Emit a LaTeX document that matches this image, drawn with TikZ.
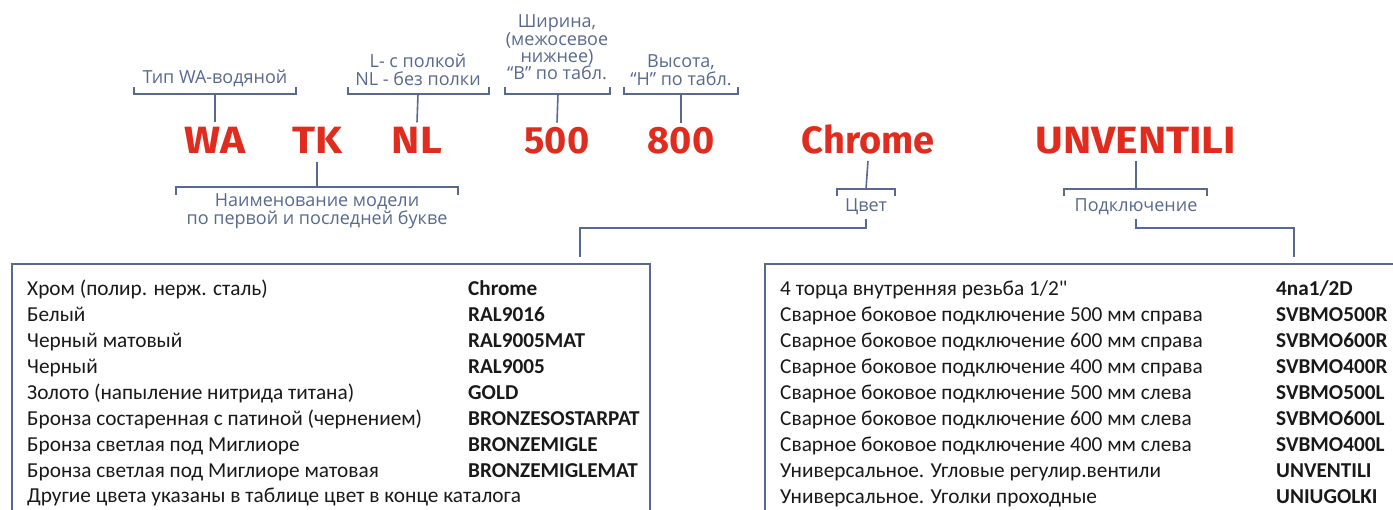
\documentclass[tikz,border=0pt]{standalone}
\usepackage{fontspec}
\setmainfont{Carlito}
\newfontfamily\rowfont{Carlito}
\newfontfamily\codefont{Fira Sans}
\newfontfamily\capsfont[FakeStretch=1.12]{Fira Sans}
\newfontfamily\labelfont{Open Sans}
\usetikzlibrary{positioning}

\definecolor{codered}{RGB}{224,44,30}
\definecolor{slate}{RGB}{88,104,142}

\tikzset{
  code/.style={text=codered, font=\codefont\bfseries\fontsize{38}{38}\selectfont, anchor=base, inner sep=0pt},
  capcode/.style={code, font=\capsfont\bfseries\fontsize{38}{38}\selectfont},
  lbl/.style={text=slate, font=\labelfont\fontsize{18}{18}\selectfont, align=center, anchor=base, inner sep=0pt},
  brk/.style={draw=slate, line width=1.6pt},
  frame/.style={draw=slate, line width=1.3pt},
  row/.style={font=\rowfont\fontsize{21.3}{21.3}\selectfont, anchor=base west, inner sep=0pt, text=black!90},
  rowcode/.style={row, font=\rowfont\bfseries\fontsize{21.2}{21.2}\selectfont},
}

\begin{document}
\begin{tikzpicture}[x=1pt,y=-1pt]
  \useasboundingbox (0,0) rectangle (1393,510);

  % the article code
  \node[capcode] (wa)  at (215,154)  {WA};
  \node[capcode] (tk)  at (317,154)  {TK};
  \node[capcode] (nl)  at (417,154)  {NL};
  \node[code] (shir)   at (557,154)  {500};
  \node[code] (vys)    at (681,154)  {800};
  \node[code] (chrome) at (868,154)  {Chrome};
  \node[capcode] (unv) at (1136,154) {UNVENTILI};

  % labels above
  \node[lbl] (tip)   at (215,84) {Тип WA-водяной};
  \node[lbl] (polka) at (418,86) {L- с полкой\\NL - без полки};
  \node[lbl, font=\labelfont\fontsize{18}{17}\selectfont] (shirl) at (557,80) {Ширина,\\(межосевое\\нижнее)\\“B” по табл.};
  \node[lbl] (vysl)  at (681,86) {Высота,\\“H” по табл.};

  % labels below
  \node[lbl] (naim)  at (317,225) {Наименование модели\\по первой и последней букве};
  \node[lbl] (cvet)  at (866,212) {Цвет};
  \node[lbl] (podkl) at (1136,212) {Подключение};

  % brackets above
  \draw[brk] (134,87) |- (296,94) -- (296,87);
  \draw[brk] ([yshift=5pt]wa.north) -- (215,94);
  \draw[brk] (348,87) |- (489,94) -- (489,87);
  \draw[brk] ([yshift=5pt]nl.north) -- (418,94);
  \draw[brk] (505,87) |- (610,94) -- (610,87);
  \draw[brk] ([yshift=5pt]shir.north) -- (558,94);
  \draw[brk] (624,87) |- (738,94) -- (738,87);
  \draw[brk] ([yshift=5pt]vys.north) -- (681,94);

  % brackets below
  \draw[brk] ([yshift=-8pt]tk.south) -- (317,187);
  \draw[brk] (176,195) |- (458,187) -- (458,195);
  \draw[brk] ([yshift=-6pt]chrome.south) -- (866,189);
  \draw[brk] (837,196) |- (895,189) -- (895,196);
  \draw[brk] ([yshift=-6pt]unv.south) -- (1136,189);
  \draw[brk] (1064,196) |- (1207,189) -- (1207,196);

  % to the tables
  \coordinate (ctab) at (580,257);
  \coordinate (ptab) at (1294,257);
  \draw[brk] ([yshift=-3pt]cvet.south) |- (580,228) -- (ctab);
  \draw[brk] ([yshift=-3pt]podkl.south) |- (1294,228) -- (ptab);

  % table frames
  \draw[frame] (12,515) |- (650,264) -- (650,515);
  \draw[frame] (765,515) |- (1400,264);

  % colours
  \foreach \txt/\cd [count=\i from 0] in {
      {Хром (полир. нерж. сталь)}/Chrome,
      Белый/RAL9016,
      {Черный матовый}/RAL9005MAT,
      Черный/RAL9005,
      {Золото (напыление нитрида титана)}/GOLD,
      {Бронза состаренная с патиной (чернением)}/BRONZESOSTARPAT,
      {Бронза светлая под Миглиоре}/BRONZEMIGLE,
      {Бронза светлая под Миглиоре матовая}/BRONZEMIGLEMAT} {
    \node[row] (col\i) at (27,296+25.9*\i) {\txt};
    \node[rowcode] (colc\i) at (468,296+25.9*\i) {\cd};
  }
  \node[row] (colend) at (27,503) {Другие цвета указаны в таблице цвет в конце каталога};

  % connections
  \foreach \txt/\cd [count=\i from 0] in {
      {4 торца внутренняя резьба 1/2"}/{4na1/2D},
      {Сварное боковое подключение 500 мм справа}/SVBMO500R,
      {Сварное боковое подключение 600 мм справа}/SVBMO600R,
      {Сварное боковое подключение 400 мм справа}/SVBMO400R,
      {Сварное боковое подключение 500 мм слева}/SVBMO500L,
      {Сварное боковое подключение 600 мм слева}/SVBMO600L,
      {Сварное боковое подключение 400 мм слева}/SVBMO400L,
      {Универсальное. Угловые регулир.вентили}/UNVENTILI,
      {Универсальное. Уголки проходные}/UNIUGOLKI} {
    \node[row] (con\i) at (780,296+25.9*\i) {\txt};
    \node[rowcode] (conc\i) at (1276,296+25.9*\i) {\cd};
  }
\end{tikzpicture}
\end{document}
